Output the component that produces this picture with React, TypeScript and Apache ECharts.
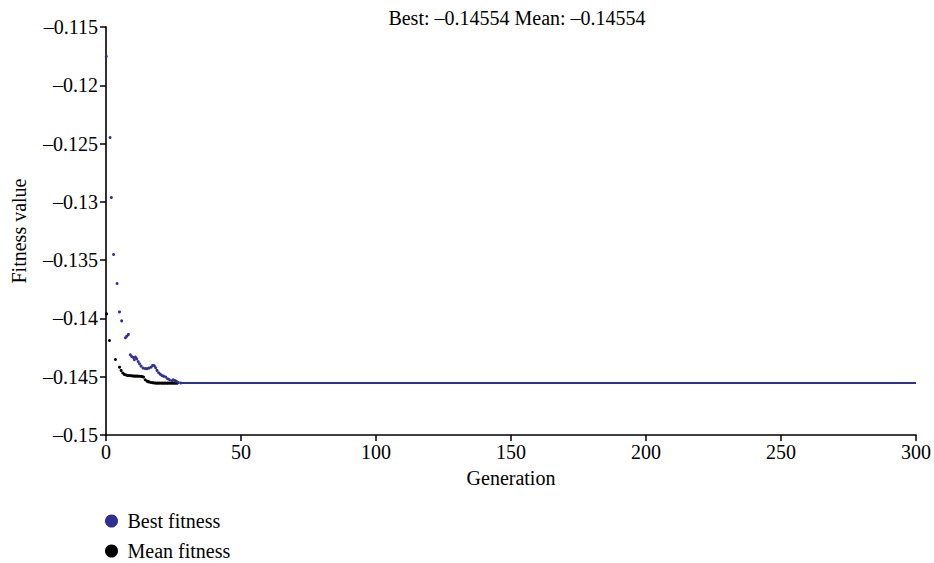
import React, { useEffect, useRef } from "react";
import * as echarts from "echarts";

// [generation, fitness]
const bestFitness: [number, number][] = [
  [0.1, -0.11753], [1.5, -0.12448], [2.0, -0.12962], [2.8, -0.13451], [4.1, -0.137],
  [5.0, -0.13944], [5.8, -0.14021], [7.2, -0.14166], [7.7, -0.14152], [8.3, -0.14137],
  [9.0, -0.14311], [9.5, -0.14326], [10.1, -0.14335], [10.5, -0.14354], [10.9, -0.14332],
  [11.4, -0.14346], [11.9, -0.14369], [12.4, -0.14389], [13.0, -0.14409], [13.7, -0.14426],
  [14.5, -0.14429], [15.2, -0.14431], [15.9, -0.14426], [16.7, -0.14418], [17.3, -0.14403],
  [17.9, -0.14406], [18.4, -0.14423], [18.9, -0.14446], [19.5, -0.14466], [20.1, -0.14478],
  [20.7, -0.14489], [21.3, -0.14495], [22.1, -0.14503], [22.8, -0.14517], [23.5, -0.14526],
  [24.4, -0.14534], [24.9, -0.14526], [25.5, -0.14532], [26.1, -0.1454], [26.8, -0.14549],
  [27.7, -0.14554],
];
const meanFitness: [number, number][] = [
  [0.2, -0.13961], [1.3, -0.14189], [3.5, -0.14352], [5.0, -0.14418], [5.6, -0.14446],
  [6.2, -0.14469], [6.8, -0.1448], [7.5, -0.14486], [8.0, -0.14489], [8.6, -0.1449],
  [9.3, -0.14491], [9.9, -0.14493], [10.5, -0.14495], [11.1, -0.14495], [11.7, -0.14495],
  [12.3, -0.14496], [13.0, -0.14497], [13.5, -0.145], [13.9, -0.14503], [14.5, -0.14526],
  [15.2, -0.14538], [15.6, -0.14542], [16.1, -0.14546], [16.7, -0.14549], [17.3, -0.14551],
  [17.9, -0.14553], [18.5, -0.14555], [19.1, -0.14555], [19.7, -0.14555], [20.4, -0.14555],
  [21.0, -0.14555], [21.6, -0.14555], [22.2, -0.14555], [22.8, -0.14555], [23.4, -0.14555],
  [24.0, -0.14555], [24.6, -0.14555], [25.2, -0.14555], [25.8, -0.14555], [26.4, -0.14555],
];
// converged best value from generation ~28 to the last generation
const convergedBest: [number, number][] = [[27.7, -0.14554], [300, -0.14554]];

const titleText = "Best: \u20130.14554 Mean: \u20130.14554";
const legendNames = ["Best fitness", "Mean fitness"];
const xTicks = { min: 0, max: 300, interval: 50 };
const yTicks = { min: -0.15, max: -0.115, interval: 0.005 };

const BLUE = "#2E3192";
const FONT = "'Liberation Serif', 'Times New Roman', serif";
const FS = 20;

export default function App() {
  const ref = useRef<HTMLDivElement>(null);
  useEffect(() => {
    if (!ref.current) return;
    const chart = echarts.init(ref.current, undefined, { renderer: "svg" });
    const axisCommon = {
      axisLine: { show: true, lineStyle: { color: "#000", width: 1.5 } },
      axisTick: { show: true, length: 6, inside: false, lineStyle: { color: "#000", width: 1.5 } },
      splitLine: { show: false },
      axisLabel: { color: "#000", fontFamily: FONT, fontSize: FS },
      nameTextStyle: { color: "#000", fontFamily: FONT, fontSize: FS },
    };
    const legendCommon = {
      orient: "horizontal",
      left: 105,
      padding: 0,
      itemWidth: 22,
      itemHeight: 13,
      icon: "circle",
      textStyle: { color: "#000", fontFamily: FONT, fontSize: FS },
    };
    chart.setOption({
      animation: false,
      backgroundColor: "#fff",
      textStyle: { fontFamily: FONT },
      title: {
        text: titleText,
        left: 512,
        textAlign: "center",
        top: 3,
        textStyle: { color: "#000", fontFamily: FONT, fontSize: FS, fontWeight: "normal" },
      },
      grid: { left: 106, right: 18, top: 27, bottom: 128, containLabel: false, outerBoundsMode: "none" },
      xAxis: {
        type: "value",
        ...xTicks,
        ...axisCommon,
        name: "Generation",
        nameLocation: "middle",
        nameGap: 33,
        axisLabel: { ...axisCommon.axisLabel, margin: 7 },
      },
      yAxis: {
        type: "value",
        ...yTicks,
        ...axisCommon,
        axisLine: { show: true, lineStyle: { color: "#333", width: 2 } },
        name: "Fitness value",
        nameLocation: "middle",
        nameGap: 77,
        axisLabel: {
          ...axisCommon.axisLabel,
          margin: 8,
          formatter: (v: number) => (v < 0 ? "\u2013" : "") + String(Number(Math.abs(v).toFixed(4))),
        },
      },
      legend: [
        { ...legendCommon, top: 511, data: [legendNames[0]] },
        { ...legendCommon, top: 541, data: [legendNames[1]] },
      ],
      series: [
        {
          name: legendNames[1],
          type: "scatter",
          data: meanFitness,
          symbol: "circle",
          symbolSize: 3,
          itemStyle: { color: "#000", opacity: 1 },
          z: 2,
        },
        {
          name: legendNames[0],
          type: "scatter",
          data: bestFitness,
          symbol: "circle",
          symbolSize: 3,
          itemStyle: { color: BLUE, opacity: 1 },
          z: 3,
        },
        {
          name: "Best converged",
          type: "line",
          data: convergedBest,
          showSymbol: false,
          symbol: "none",
          lineStyle: { color: BLUE, width: 2 },
          z: 3,
        },
      ],
    });
    return () => chart.dispose();
  }, []);
  return <div ref={ref} style={{ width: 934, height: 563, position: "absolute", left: 0, top: 0 }} />;
}
